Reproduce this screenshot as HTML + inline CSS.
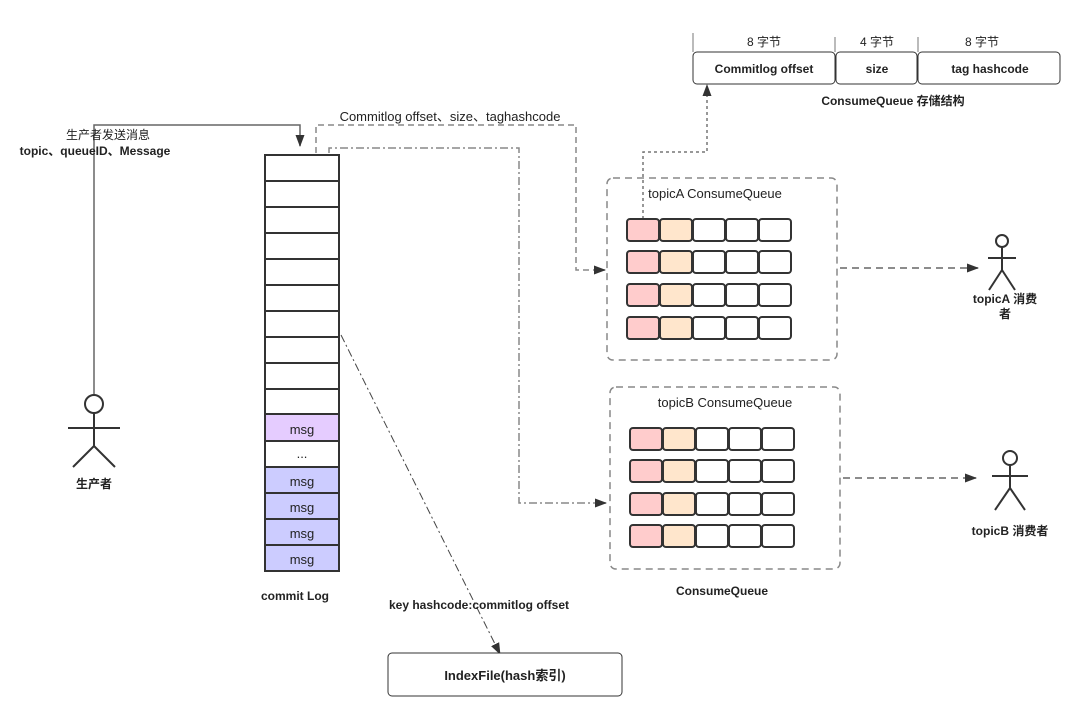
<!DOCTYPE html>
<html><head><meta charset="utf-8"><style>
body{margin:0;background:#fff}
text{font-family:"Liberation Sans","Noto Sans CJK SC",sans-serif;fill:#222}
.b{font-weight:bold}
</style></head><body>
<svg width="1087" height="722" xmlns="http://www.w3.org/2000/svg">
<defs>
<marker id="ar" markerWidth="12" markerHeight="12" refX="11" refY="6" orient="auto" markerUnits="userSpaceOnUse"><path d="M0,1.5 L12,6 L0,10.5 Z" fill="#333"/></marker>
</defs>
<g stroke="#333" stroke-width="2" fill="#fff">
<rect x="265" y="155" width="74" height="416"/>
<rect x="265" y="414" width="74" height="27" fill="#e5ccff"/>
<rect x="265" y="467" width="74" height="104" fill="#ccccff"/>
<path d="M265 181H339M265 207H339M265 233H339M265 259H339M265 285H339M265 311H339M265 337H339M265 363H339M265 389H339M265 414H339M265 441H339M265 467H339M265 493H339M265 519H339M265 545H339"/>
</g>
<g font-size="13" text-anchor="middle">
<text x="302" y="434">msg</text><text x="302" y="458">...</text>
<text x="302" y="486">msg</text><text x="302" y="512">msg</text><text x="302" y="538">msg</text><text x="302" y="564">msg</text>
</g>
<text x="295" y="600" font-size="12" class="b" text-anchor="middle">commit Log</text>
<!-- producer -->
<path d="M94 395V125H300V146" stroke="#666" stroke-width="1.5" fill="none" marker-end="url(#ar)"/>
<text x="108" y="139" font-size="12" text-anchor="middle">生产者发送消息</text>
<text x="95" y="155" font-size="12" class="b" text-anchor="middle">topic、queueID、Message</text>
<g stroke="#333" stroke-width="2" fill="#fff">
<circle cx="94" cy="404" r="9"/><path d="M94 413V446M68 428H120M94 446L73 467M94 446L115 467" fill="none"/>
<circle cx="1002" cy="241" r="6"/><path d="M1002 247V270M988 258H1016M1002 270L989 290M1002 270L1015 290" fill="none"/>
<circle cx="1010" cy="458" r="7"/><path d="M1010 465V488M992 476H1028M1010 488L995 510M1010 488L1025 510" fill="none"/>
</g>
<text x="94" y="488" font-size="12" class="b" text-anchor="middle">生产者</text>
<text x="1005" y="303" font-size="12" class="b" text-anchor="middle">topicA 消费</text>
<text x="1005" y="318" font-size="12" class="b" text-anchor="middle">者</text>
<text x="1010" y="535" font-size="12" class="b" text-anchor="middle">topicB 消费者</text>
<!-- connectors -->
<path d="M316 153V125H576V270H605" stroke="#888" stroke-width="1.5" stroke-dasharray="6 4" fill="none" marker-end="url(#ar)"/>
<text x="450" y="121" font-size="13" text-anchor="middle" fill="#333">Commitlog offset、size、taghashcode</text>
<path d="M329 153V148H519V503H606" stroke="#888" stroke-width="1.5" stroke-dasharray="8 3 2 3" fill="none" marker-end="url(#ar)"/>
<path d="M341 335L500 654" stroke="#444" stroke-width="1" stroke-dasharray="8 3 2 3" fill="none" marker-end="url(#ar)"/>
<text x="479" y="609" font-size="12" class="b" text-anchor="middle">key hashcode:commitlog offset</text>
<rect x="388" y="653" width="234" height="43" rx="4" fill="#fff" stroke="#333"/>
<text x="505" y="680" font-size="13" class="b" text-anchor="middle">IndexFile(hash索引)</text>
<path d="M643 219V152H707V85" stroke="#777" stroke-width="1.5" stroke-dasharray="3 3" fill="none" marker-end="url(#ar)"/>
<path d="M840 268H978" stroke="#666" stroke-width="1.5" stroke-dasharray="7 5" fill="none" marker-end="url(#ar)"/>
<path d="M843 478H976" stroke="#666" stroke-width="1.5" stroke-dasharray="7 5" fill="none" marker-end="url(#ar)"/>
<!-- queues -->
<rect x="607" y="178" width="230" height="182" rx="6" fill="none" stroke="#888" stroke-width="1.5" stroke-dasharray="7 5"/>
<text x="715" y="198" font-size="13" text-anchor="middle" fill="#333">topicA ConsumeQueue</text>
<rect x="610" y="387" width="230" height="182" rx="6" fill="none" stroke="#888" stroke-width="1.5" stroke-dasharray="7 5"/>
<text x="725" y="407" font-size="13" text-anchor="middle" fill="#333">topicB ConsumeQueue</text>
<text x="722" y="595" font-size="12" class="b" text-anchor="middle">ConsumeQueue</text>
<g stroke="#333" stroke-width="2">
<g id="rowA">
<rect x="627" y="219" width="32" height="22" rx="3" fill="#ffcccc"/>
<rect x="660" y="219" width="32" height="22" rx="3" fill="#ffe6cc"/>
<rect x="693" y="219" width="32" height="22" rx="3" fill="#fff"/>
<rect x="726" y="219" width="32" height="22" rx="3" fill="#fff"/>
<rect x="759" y="219" width="32" height="22" rx="3" fill="#fff"/>
</g>
<use href="#rowA" y="32"/><use href="#rowA" y="65"/><use href="#rowA" y="98"/>
<use href="#rowA" x="3" y="209"/><use href="#rowA" x="3" y="241"/><use href="#rowA" x="3" y="274"/><use href="#rowA" x="3" y="306"/>
</g>
<!-- top table -->
<path d="M693 33V52M835 37V52M918 37V52" stroke="#777" stroke-width="1"/>
<text x="764" y="46" font-size="12" text-anchor="middle">8 字节</text>
<text x="877" y="46" font-size="12" text-anchor="middle">4 字节</text>
<text x="982" y="46" font-size="12" text-anchor="middle">8 字节</text>
<g fill="#fff" stroke="#333">
<rect x="693" y="52" width="142" height="32" rx="4"/>
<rect x="836" y="52" width="81" height="32" rx="4"/>
<rect x="918" y="52" width="142" height="32" rx="4"/>
</g>
<text x="764" y="73" font-size="12" class="b" text-anchor="middle">Commitlog offset</text>
<text x="877" y="73" font-size="12" class="b" text-anchor="middle">size</text>
<text x="990" y="73" font-size="12" class="b" text-anchor="middle">tag hashcode</text>
<text x="893" y="105" font-size="12" class="b" text-anchor="middle">ConsumeQueue 存储结构</text>
</svg>
</body></html>
